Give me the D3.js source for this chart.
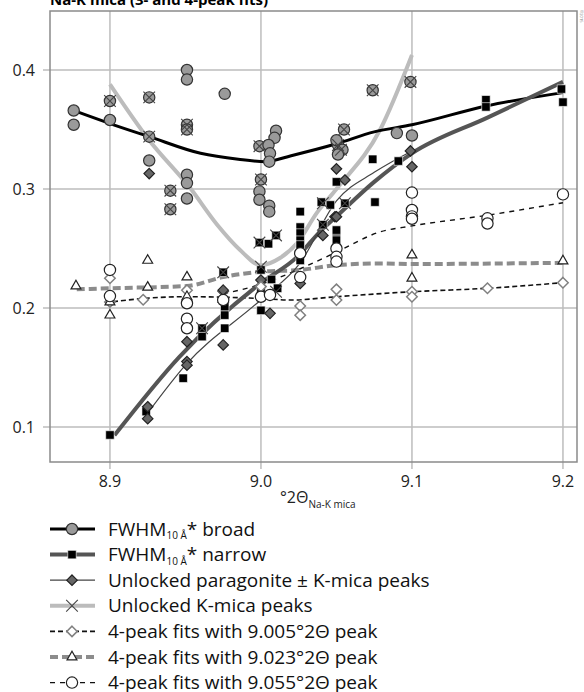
<!DOCTYPE html>
<html>
<head>
<meta charset="utf-8">
<script src="https://cdnjs.cloudflare.com/ajax/libs/d3/7.8.5/d3.min.js"></script>
<style>
  body { margin: 0; background: #fff; }
  svg { font-family: "Open Sans", "Noto Sans", sans-serif; }
</style>
</head>
<body>
<div id="chart"></div>
<script>
// ---- data ----
var xTicks = [8.9, 9.0, 9.1, 9.2];
var yTicks = [0.1, 0.2, 0.3, 0.4];

// FWHM broad (grey circles) + fit line
var broadX = [8.876, 8.876, 8.9, 8.9, 8.926, 8.926, 8.926, 8.94, 8.94, 8.951, 8.951, 8.951, 8.951, 8.951, 8.951, 8.951,
    8.976, 8.999, 9.010, 9.009, 9.005, 9.006, 9.0055, 9.0, 8.999, 8.999, 9.0055, 9.0055,
    9.055, 9.051, 9.054, 9.051, 9.05, 9.074, 9.099, 9.090, 9.1];
var broadY = [0.366, 0.354, 0.358, 0.374, 0.377, 0.344, 0.324, 0.2986, 0.283, 0.400, 0.392, 0.354, 0.350, 0.312, 0.305, 0.292,
    0.380, 0.336, 0.349, 0.343, 0.337, 0.330, 0.323, 0.308, 0.298, 0.291, 0.286, 0.281,
    0.350, 0.337, 0.333, 0.329, 0.341, 0.383, 0.390, 0.347, 0.345];
var broadFitX = [8.878, 8.9, 8.926, 8.96, 8.985, 9.003, 9.02, 9.05, 9.075, 9.1, 9.15, 9.2];
var broadFitY = [0.365, 0.355, 0.344, 0.330, 0.325, 0.323, 0.328, 0.338, 0.348, 0.354, 0.370, 0.381];

// FWHM narrow (black squares) + fit line
var narrowX = [8.9, 8.924, 8.9485, 8.961, 8.961, 8.976, 8.976, 8.976, 8.975, 9.0, 9.0, 9.0, 8.999, 9.005, 9.010, 9.007, 9.011,
    9.026, 9.026, 9.026, 9.026, 9.026, 9.026, 9.026, 9.04, 9.046, 9.041, 9.05, 9.05, 9.0556, 9.0755,
    9.05, 9.074, 9.05, 9.091, 9.149, 9.149, 9.199, 9.2];
var narrowY = [0.0933, 0.113, 0.141, 0.183, 0.176, 0.201, 0.194, 0.183, 0.230, 0.232, 0.214, 0.198, 0.255, 0.254, 0.261, 0.224, 0.2166,
    0.281, 0.268, 0.263, 0.257, 0.253, 0.246, 0.240, 0.289, 0.2866, 0.270, 0.264, 0.257, 0.288, 0.289,
    0.306, 0.325, 0.2655, 0.3235, 0.375, 0.369, 0.384, 0.373];
var narrowFitX = [8.903, 8.946, 9.0, 9.024, 9.039, 9.05, 9.075, 9.1, 9.15, 9.2];
var narrowFitY = [0.093, 0.159, 0.221, 0.243, 0.264, 0.277, 0.306, 0.330, 0.360, 0.390];

// unlocked paragonite +- K-mica (dark diamonds) + thin line
var paraX = [8.926, 8.925, 8.925, 8.951, 8.951, 8.951, 8.975, 8.975, 9.0, 9.006, 9.026, 9.041, 9.049, 9.05, 9.0556, 9.05, 9.099, 9.1];
var paraY = [0.313, 0.117, 0.107, 0.1717, 0.155, 0.152, 0.215, 0.169, 0.2235, 0.1955, 0.2207, 0.261, 0.2767, 0.317, 0.3076, 0.2767, 0.332, 0.3187];
var paraLineX = [8.924, 8.95, 9.0, 9.026, 9.05, 9.075, 9.1];
var paraLineY = [0.110, 0.152, 0.207, 0.238, 0.290, 0.314, 0.332];

// unlocked K-mica peaks (crosses) + light grey line
var kmicaX = [8.9, 8.926, 8.926, 8.94, 8.94, 8.951, 8.951, 8.999, 9.0, 9.055, 9.051, 9.053, 9.074, 9.099,
    8.961, 8.975, 8.999, 9.010, 9.041, 9.0556, 9.041, 8.975, 9.0, 9.01];
var kmicaY = [0.374, 0.377, 0.344, 0.2986, 0.283, 0.354, 0.350, 0.336, 0.308, 0.350, 0.337, 0.333, 0.383, 0.390,
    0.183, 0.230, 0.255, 0.261, 0.288, 0.288, 0.270, 0.2095, 0.2347, 0.2137];
var kmicaLineX = [8.9, 8.926, 8.953, 8.971, 8.986, 9.0, 9.0126, 9.024, 9.037, 9.05, 9.079, 9.1];
var kmicaLineY = [0.388, 0.341, 0.301, 0.270, 0.249, 0.236, 0.242, 0.2546, 0.280, 0.300, 0.350, 0.4126];

// 4-peak fits with 9.005 peak (open diamonds)
var fit1X = [8.9, 8.9, 8.922, 8.951, 9.0, 9.026, 9.026, 9.05, 9.05, 9.1, 9.1, 9.15, 9.2];
var fit1Y = [0.225, 0.205, 0.207, 0.215, 0.218, 0.2017, 0.194, 0.2157, 0.2067, 0.2137, 0.2095, 0.2166, 0.2213];
var fit1LineX = [8.902, 8.922, 8.951, 9.0, 9.02, 9.05, 9.1, 9.15, 9.2];
var fit1LineY = [0.2053, 0.208, 0.2095, 0.208, 0.2067, 0.2095, 0.2137, 0.2166, 0.2213];

// 4-peak fits with 9.023 peak (open triangles)
var fit2X = [8.8775, 8.9, 8.9, 8.925, 8.925, 8.951, 8.951, 9.1, 9.1, 9.2];
var fit2Y = [0.2185, 0.205, 0.194, 0.240, 0.2174, 0.226, 0.2095, 0.2445, 0.225, 0.2395];
var fit2LineX = [8.878, 8.9, 8.951, 8.975, 9.0, 9.026, 9.05, 9.079, 9.1, 9.2];
var fit2LineY = [0.2157, 0.2166, 0.2185, 0.226, 0.2305, 0.232, 0.236, 0.2375, 0.237, 0.238];

// 4-peak fits with 9.055 peak (open circles)
var fit3X = [8.9, 8.9, 8.951, 8.951, 8.951, 8.975, 9.0, 9.006, 9.026, 9.026, 9.05, 9.05, 9.05, 9.1, 9.1, 9.1, 9.1, 9.15, 9.15, 9.2];
var fit3Y = [0.232, 0.210, 0.204, 0.191, 0.183, 0.2067, 0.2095, 0.211, 0.246, 0.226, 0.250, 0.243, 0.239, 0.297, 0.2824, 0.277, 0.275, 0.2754, 0.271, 0.2955];
var fit3LineX = [8.975, 9.0, 9.026, 9.05, 9.079, 9.1, 9.15, 9.2];
var fit3LineY = [0.212, 0.220, 0.233, 0.247, 0.264, 0.269, 0.278, 0.2885];

// ---- layout ----
var W = 584, H = 692;
var plot = { left: 50, right: 577, top: 11, bottom: 462 };

var svg = d3.select("#chart").append("svg").attr("width", W).attr("height", H);

var x = d3.scaleLinear().domain([8.8603, 9.2093]).range([plot.left, plot.right]);
var y = d3.scaleLinear().domain([0.0706, 0.4496]).range([plot.bottom, plot.top]);

function zip(xs, ys) {
    return xs.map(function (v, i) { return [v, ys[i]]; });
}

// title (mostly cut off at the top edge, as in the source)
svg.append("text")
    .attr("x", 50).attr("y", 5)
    .attr("font-weight", "bold").attr("font-size", 15)
    .text("Na-K mica (3- and 4-peak fits)");

// tiny rotated credit at the right edge
svg.append("text")
    .attr("transform", "translate(580,10) rotate(90)")
    .attr("font-size", 4).attr("fill", "#777")
    .text("©2015");

// gridlines
var grid = svg.append("g").attr("stroke", "#bdbdbd").attr("stroke-width", 1.5);
grid.selectAll(".gx").data(xTicks).enter().append("line")
    .attr("x1", function (d) { return x(d); }).attr("x2", function (d) { return x(d); })
    .attr("y1", plot.top).attr("y2", plot.bottom + 7);
grid.selectAll(".gy").data(yTicks).enter().append("line")
    .attr("y1", function (d) { return y(d); }).attr("y2", function (d) { return y(d); })
    .attr("x1", plot.left - 7).attr("x2", plot.right);

// frame
svg.append("rect")
    .attr("x", plot.left).attr("y", plot.top)
    .attr("width", plot.right - plot.left).attr("height", plot.bottom - plot.top)
    .attr("fill", "none").attr("stroke", "#8a8a8a").attr("stroke-width", 1.5);

// tick labels
svg.selectAll(".xl").data(xTicks).enter().append("text")
    .attr("x", function (d) { return x(d); }).attr("y", 487)
    .attr("text-anchor", "middle").attr("font-size", 16).attr("fill", "#222")
    .text(function (d) { return d3.format(".1f")(d); });
svg.selectAll(".yl").data(yTicks).enter().append("text")
    .attr("x", 35).attr("y", function (d) { return y(d) + 6; })
    .attr("text-anchor", "end").attr("font-size", 16).attr("fill", "#222")
    .text(function (d) { return d3.format(".1f")(d); });

// x axis title
var xt = svg.append("text").attr("x", 280).attr("y", 503).attr("font-size", 16).attr("fill", "#222");
xt.append("tspan").text("°2Θ");
xt.append("tspan").attr("font-size", 10).attr("dy", 5).text("Na-K mica");

// ---- lines ----
var line = d3.line()
    .x(function (d) { return x(d[0]); })
    .y(function (d) { return y(d[1]); })
    .curve(d3.curveMonotoneX);

var lines = [
    { pts: zip(kmicaLineX, kmicaLineY), stroke: "#bcbcbc", w: 4, dash: null },
    { pts: zip(fit2LineX, fit2LineY), stroke: "#8c8c8c", w: 4, dash: "8,4" },
    { pts: zip(fit1LineX, fit1LineY), stroke: "#111", w: 1.6, dash: "5,3" },
    { pts: zip(fit3LineX, fit3LineY), stroke: "#111", w: 1.4, dash: "5,5" },
    { pts: zip(broadFitX, broadFitY), stroke: "#000", w: 3, dash: null },
    { pts: zip(narrowFitX, narrowFitY), stroke: "#555", w: 4, dash: null },
    { pts: zip(paraLineX, paraLineY), stroke: "#444", w: 1.2, dash: null }
];
svg.append("g").selectAll("path").data(lines).enter().append("path")
    .attr("d", function (d) { return line(d.pts); })
    .attr("fill", "none")
    .attr("stroke", function (d) { return d.stroke; })
    .attr("stroke-width", function (d) { return d.w; })
    .attr("stroke-dasharray", function (d) { return d.dash; });

// ---- markers ----
var sym = {
    circle: d3.symbol().type(d3.symbolCircle).size(100),
    square: d3.symbol().type(d3.symbolSquare).size(72),
    diamond: d3.symbol().type(d3.symbolDiamond2).size(70),
    triangle: d3.symbol().type(d3.symbolTriangle2).size(70),
    cross: d3.symbol().type(d3.symbolTimes).size(90)
};

var markerSets = [
    { pts: zip(broadX, broadY), s: "circle", fill: "#9a9a9a", stroke: "#333", w: 1.2 },
    { pts: zip(narrowX, narrowY), s: "square", fill: "#000", stroke: "#fff", w: 0.6 },
    { pts: zip(paraX, paraY), s: "diamond", fill: "#666", stroke: "#222", w: 1.2 },
    { pts: zip(kmicaX, kmicaY), s: "cross", fill: "none", stroke: "#444", w: 1.1 },
    { pts: zip(fit1X, fit1Y), s: "diamond", fill: "#fff", stroke: "#808080", w: 1.5 },
    { pts: zip(fit2X, fit2Y), s: "triangle", fill: "#fff", stroke: "#222", w: 1.2 },
    { pts: zip(fit3X, fit3Y), s: "circle", fill: "#fff", stroke: "#222", w: 1.2 }
];

markerSets.forEach(function (m) {
    svg.append("g").selectAll("path").data(m.pts).enter().append("path")
        .attr("transform", function (d) { return "translate(" + x(d[0]) + "," + y(d[1]) + ")"; })
        .attr("d", sym[m.s]())
        .attr("fill", m.fill)
        .attr("stroke", m.stroke)
        .attr("stroke-width", m.w);
});

// ---- legend ----
var legendItems = [
    { line: lines[4], m: markerSets[0], label: ["FWHM", "10 Å", "* broad"] },
    { line: lines[5], m: markerSets[1], label: ["FWHM", "10 Å", "* narrow"] },
    { line: lines[6], m: markerSets[2], label: ["Unlocked paragonite ± K-mica peaks"] },
    { line: lines[0], m: markerSets[3], label: ["Unlocked K-mica peaks"] },
    { line: lines[2], m: markerSets[4], label: ["4-peak fits with 9.005°2Θ peak"] },
    { line: lines[1], m: markerSets[5], label: ["4-peak fits with 9.023°2Θ peak"] },
    { line: lines[3], m: markerSets[6], label: ["4-peak fits with 9.055°2Θ peak"] }
];

var legend = svg.append("g").selectAll("g").data(legendItems).enter().append("g")
    .attr("transform", function (d, i) { return "translate(0," + (529 + i * 25.6) + ")"; });

legend.append("line")
    .attr("x1", 50).attr("x2", 95)
    .attr("stroke", function (d) { return d.line.stroke; })
    .attr("stroke-width", function (d) { return d.line.w; })
    .attr("stroke-dasharray", function (d) { return d.line.dash; });

legend.append("path")
    .attr("transform", "translate(72,0)")
    .attr("d", function (d) { return sym[d.m.s](); })
    .attr("fill", function (d) { return d.m.fill; })
    .attr("stroke", function (d) { return d.m.stroke; })
    .attr("stroke-width", function (d) { return d.m.w; });

legend.each(function (d) {
    var t = d3.select(this).append("text")
        .attr("x", 108).attr("y", 6.5)
        .attr("font-size", 19).attr("fill", "#111");
    t.append("tspan").attr("fill", "#111").text(d.label[0]);
    if (d.label.length > 1) {
        t.append("tspan").attr("fill", "#111").attr("font-size", 10).attr("dy", 3.5).text(d.label[1]);
        t.append("tspan").attr("fill", "#111").attr("dy", -3.5).text(d.label[2]);
    }
});
</script>
</body>
</html>
